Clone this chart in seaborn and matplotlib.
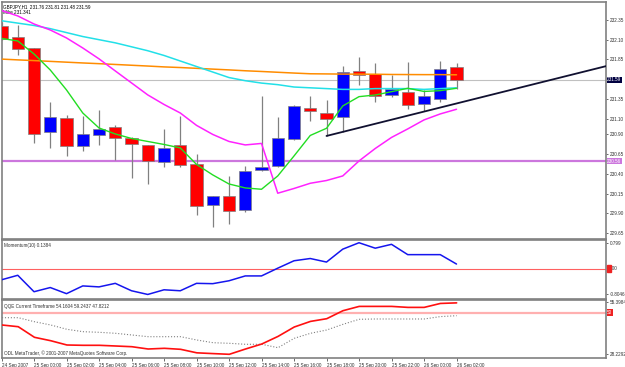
import matplotlib
matplotlib.use('Agg')
import matplotlib.pyplot as plt
from matplotlib.patches import Rectangle
import seaborn as sns

# GBPJPY H1, bars from 24 Sep 22:00 to 26 Sep 02:00
bars = list(range(29))
opens = [232.27, 232.13, 231.99, 230.93, 231.11, 230.75, 230.89, 230.99, 230.85, 230.77,
         230.55, 230.77, 230.52, 230.00, 230.12, 229.94, 230.45, 230.50, 230.84, 231.23,
         231.17, 231.12, 231.70, 231.67, 231.40, 231.44, 231.29, 231.35, 231.76]
highs = [232.32, 232.29, 232.00, 231.31, 231.15, 231.13, 231.21, 231.02, 230.87, 230.77,
         230.97, 231.13, 230.65, 230.12, 230.37, 230.50, 231.38, 231.12, 231.27, 231.39,
         231.33, 231.77, 231.88, 231.80, 231.65, 231.82, 231.46, 231.83, 231.81]
lows = [232.10, 231.91, 230.79, 230.73, 230.62, 230.69, 230.77, 230.57, 230.35, 230.27,
        230.48, 230.48, 229.88, 229.72, 229.77, 229.91, 230.43, 230.48, 230.83, 231.07,
        230.88, 230.93, 231.52, 231.31, 231.37, 231.22, 231.19, 231.31, 231.48]
closes = [232.11, 231.98, 230.91, 231.12, 230.75, 230.91, 230.97, 230.86, 230.78, 230.56,
          230.73, 230.51, 229.99, 230.12, 229.93, 230.44, 230.49, 230.86, 231.26, 231.20,
          231.10, 231.69, 231.65, 231.38, 231.47, 231.27, 231.38, 231.73, 231.59]

ma_green = [232.116, 232.084, 231.919, 231.716, 231.463, 231.171, 230.981, 230.905, 230.848, 230.810,
            230.772, 230.728, 230.519, 230.386, 230.271, 230.221, 230.204, 230.373, 230.626, 230.886,
            230.977, 231.260, 231.378, 231.399, 231.441, 231.484, 231.444, 231.454, 231.484]
ma_magenta = [232.470, 232.401, 232.299, 232.223, 232.122, 231.995, 231.857, 231.704, 231.552, 231.400,
              231.279, 231.171, 231.014, 230.899, 230.810, 230.766, 230.785, 230.154, 230.214, 230.280,
              230.315, 230.373, 230.563, 230.721, 230.861, 230.969, 231.083, 231.159, 231.218]
ma_cyan = [232.34, 232.31, 232.28, 232.24, 232.19, 232.14, 232.10, 232.06, 232.01, 231.96,
           231.90, 231.83, 231.76, 231.69, 231.62, 231.58, 231.55, 231.53, 231.50, 231.49,
           231.48, 231.47, 231.47, 231.48, 231.48, 231.48, 231.47, 231.48, 231.49]
ma_orange = [231.854, 231.844, 231.835, 231.825, 231.815, 231.805, 231.796, 231.786, 231.776, 231.766,
             231.755, 231.747, 231.737, 231.727, 231.717, 231.706, 231.697, 231.687, 231.677, 231.668,
             231.666, 231.664, 231.663, 231.662, 231.659, 231.658, 231.657, 231.657, 231.655]

trend_x = [20, 37.5]
trend_y = [230.88, 231.78]
bid_price = 231.59
level_price = 230.56

momentum = [-0.35, -0.21, -0.72, -0.59, -0.78, -0.54, -0.57, -0.46, -0.69, -0.8046,
            -0.66, -0.69, -0.46, -0.47, -0.38, -0.23, -0.23, 0.01, 0.24, 0.31,
            0.20, 0.60, 0.799, 0.63, 0.75, 0.43, 0.43, 0.43, 0.1384]

qqe_rsi = [43.54, 42.65, 37.11, 35.33, 33.09, 32.93, 32.93, 32.57, 32.20, 31.00,
           31.36, 30.84, 29.00, 28.60, 28.23, 31.00, 33.61, 37.58, 42.49, 45.42,
           46.83, 51.01, 53.26, 53.26, 53.26, 52.74, 52.74, 54.80, 55.10]
qqe_trail = [47.35, 47.35, 45.26, 43.54, 41.29, 40.04, 39.72, 39.20, 38.32, 37.43,
             37.43, 37.43, 35.70, 34.29, 33.98, 33.46, 33.46, 31.68, 36.59, 39.20,
             40.93, 43.90, 46.52, 46.68, 46.68, 46.68, 46.68, 47.93, 48.40]

price_ticks = [232.35, 232.10, 231.85, 231.35, 231.10, 230.90, 230.65, 230.40, 230.15, 229.90, 229.65]
time_ticks = list(range(0, 29, 2))
time_labels = ['24 Sep 2007', '25 Sep 00:00', '25 Sep 02:00', '25 Sep 04:00', '25 Sep 06:00',
               '25 Sep 08:00', '25 Sep 10:00', '25 Sep 12:00', '25 Sep 14:00', '25 Sep 16:00',
               '25 Sep 18:00', '25 Sep 20:00', '25 Sep 22:00', '26 Sep 00:00', '26 Sep 02:00']

sns.set_style('white')
plt.rcParams['font.family'] = ['Liberation Sans', 'DejaVu Sans']
FS = 3.3
TXT = '#303030'

W, H = 625, 367
fig = plt.figure(figsize=(W / 100, H / 100), dpi=100)
fig.patch.set_facecolor('white')


def pane(top, bottom):
    ax = fig.add_axes([2 / W, (H - bottom) / H, 604 / W, (bottom - top) / H])
    ax.set_facecolor('white')
    for s in ax.spines.values():
        s.set_visible(True)
        s.set_color('#808080')
        s.set_linewidth(1.2)
    ax.yaxis.tick_right()
    ax.tick_params(axis='y', length=1.5, width=0.5, pad=1, labelsize=FS, colors=TXT, right=True, left=False)
    return ax


def tidy(ax, lo, hi):
    ax.set_ylim(lo, hi)
    ax.set_xlim(0.03, 37.2)
    ax.tick_params(axis='x', bottom=False, labelbottom=False)
    ax.set_xlabel('')
    ax.set_ylabel('')


ax_p = pane(1.5, 238.5)
ax_m = pane(240, 298.5)
ax_q = pane(300, 358)

# price pane
ax_p.axhline(bid_price, color='#c0c0c0', lw=0.8, zorder=1)
ax_p.axhline(level_price, color='#cc77dd', lw=1.6, zorder=1)
ax_p.vlines(bars, lows, highs, color='#808080', lw=0.9, zorder=2)
body_bottom = [min(o, c) for o, c in zip(opens, closes)]
body_height = [abs(c - o) for o, c in zip(opens, closes)]
body_color = ['#0000ff' if c > o else '#ff0000' for o, c in zip(opens, closes)]
ax_p.bar(bars, body_height, bottom=body_bottom, width=0.74, color=body_color,
         edgecolor='#808080', linewidth=0.5, zorder=3)

sns.lineplot(x=bars, y=ma_orange, ax=ax_p, color='#ff8c00', lw=1.1, zorder=4)
sns.lineplot(x=bars, y=ma_cyan, ax=ax_p, color='#22e0e8', lw=1.1, zorder=4)
sns.lineplot(x=bars, y=ma_magenta, ax=ax_p, color='#ff22ff', lw=1.1, zorder=4)
sns.lineplot(x=bars, y=ma_green, ax=ax_p, color='#22dd22', lw=1.0, zorder=4)
sns.lineplot(x=trend_x, y=trend_y, ax=ax_p, color='#101030', lw=1.3, zorder=5)

tidy(ax_p, 229.58, 232.584)
ax_p.set_yticks(price_ticks)
ax_p.set_yticklabels([f'{v:.2f}' for v in price_ticks])
ytr = ax_p.get_yaxis_transform()
ax_p.text(1.002, bid_price, f'{bid_price:.2f}', transform=ytr, fontsize=FS, color='white',
          va='center', ha='left', bbox=dict(boxstyle='square,pad=0.15', fc='#000040', ec='none'))
ax_p.text(1.002, level_price, f'{level_price:.2f}', transform=ytr, fontsize=FS, color='white',
          va='center', ha='left', bbox=dict(boxstyle='square,pad=0.15', fc='#cc77dd', ec='none'))
ax_p.text(0.002, 0.988, 'GBPJPY,H1  231.76 231.81 231.48 231.59', transform=ax_p.transAxes,
          fontsize=FS, color='black', va='top', ha='left')
ax_p.text(0.002, 0.963, 'Mike 231.341', transform=ax_p.transAxes,
          fontsize=FS, color='black', va='top', ha='left')

# momentum pane
ax_m.axhline(0, color='#ff6060', lw=0.8, zorder=1)
sns.lineplot(x=bars, y=momentum, ax=ax_m, color='#1515ee', lw=1.1, zorder=3)
tidy(ax_m, -0.93, 0.884)
ax_m.set_yticks([0.799, -0.8046])
ax_m.set_yticklabels(['0.799', '-0.8046'])
ytr = ax_m.get_yaxis_transform()
ax_m.add_patch(Rectangle((1.001, -0.11), 0.008, 0.22, transform=ytr, clip_on=False,
                         color='#ee2222', zorder=5))
ax_m.text(1.004, 0, '0.00', transform=ytr, fontsize=FS, color=TXT, va='center', ha='left')
ax_m.text(0.004, 0.95, 'Momentum(10) 0.1384', transform=ax_m.transAxes,
          fontsize=FS, color=TXT, va='top', ha='left')

# QQE pane
ax_q.axhline(50, color='#ffb0b0', lw=1.6, zorder=1)
sns.lineplot(x=bars, y=qqe_trail, ax=ax_q, color='#808080', lw=0.8, ls=':', zorder=2)
sns.lineplot(x=bars, y=qqe_rsi, ax=ax_q, color='#ff1010', lw=1.2, zorder=3)
tidy(ax_q, 26.3, 56.6)
ax_q.set_yticks([55.3984, 28.2292])
ax_q.set_yticklabels(['55.3984', '28.2292'])
ax_q.set_xticks(time_ticks)
ax_q.set_xticklabels(time_labels, ha='left')
ax_q.tick_params(axis='x', bottom=True, labelbottom=True, length=2, width=0.5, pad=1.5,
                 labelsize=FS, colors=TXT, direction='out')
ytr = ax_q.get_yaxis_transform()
ax_q.text(1.002, 50, '50', transform=ytr, fontsize=FS, color='white', va='center', ha='left',
          bbox=dict(boxstyle='square,pad=0.15', fc='#ee2222', ec='none'))
ax_q.text(0.004, 0.93, 'QQE Current Timeframe 54.1604 59.2437 47.8212', transform=ax_q.transAxes,
          fontsize=FS, color=TXT, va='top', ha='left')
ax_q.text(0.004, 0.04, 'ODL MetaTrader, \u00a9 2001-2007 MetaQuotes Software Corp.', transform=ax_q.transAxes,
          fontsize=FS, color=TXT, va='bottom', ha='left')

fig.savefig('out.png', dpi=100)
